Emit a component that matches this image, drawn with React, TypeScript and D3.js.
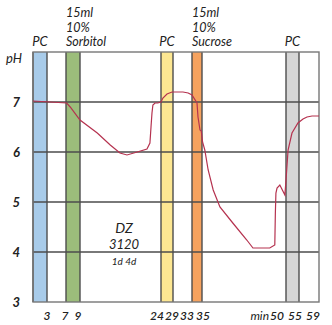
import React from "react";
import * as d3 from "d3";

const xTicks = [3, 7, 9, 24, 29, 33, 35, 50, 55, 59];
const xTickLabels = ["3", "7", "9", "24", "29", "33", "35", "50", "55", "59"];
const yTicks = [3, 4, 5, 6, 7];
const bands = [
  { from: 0, to: 3, color: "#a8cbe9", label: "PC" },
  { from: 7, to: 9, color: "#9cbd7b", label: "" },
  { from: 24, to: 29, color: "#fde792", label: "PC" },
  { from: 33, to: 35, color: "#f5a25f", label: "" },
  { from: 50, to: 55, color: "#d6d6d6", label: "PC" },
];
const minutes = [0, 7.1, 7.6, 9, 12.2, 14.6, 16.4, 17.7, 19.6, 21.4, 21.95, 22.15, 22.33, 22.5, 22.9, 23.4, 24, 24.8, 26.5, 28.6, 31.1, 32.2, 33, 34, 34.2, 34.6, 34.85, 35.1, 35.5, 36.1, 37, 38.2, 40.5, 43, 44.1, 47.1, 48.0, 48.1, 48.2, 48.4, 48.9, 49.8, 50, 50.8, 52.3, 54.6, 55.8, 56.6, 57.6, 59];
const pH = [7.02, 6.98, 6.9, 6.64, 6.38, 6.14, 5.98, 5.94, 6.0, 6.06, 6.18, 6.5, 6.78, 6.94, 6.98, 6.98, 7.0, 7.08, 7.16, 7.2, 7.2, 7.18, 7.14, 6.98, 6.7, 6.44, 6.42, 6.2, 6.04, 5.64, 5.24, 4.9, 4.58, 4.24, 4.08, 4.08, 4.14, 4.78, 5.18, 5.28, 5.34, 5.14, 5.44, 6.04, 6.38, 6.58, 6.66, 6.7, 6.72, 6.72];

const font = "Lato, 'Open Sans', sans-serif";

export default function App() {
  const x = d3
    .scaleLinear()
    .domain([0, 3, 7, 9, 24, 29, 33, 35, 50, 55, 59])
    .range([33, 47, 66, 80, 161, 173, 192, 202, 286, 299, 319]);
  const y = d3.scaleLinear().domain([3, 8]).range([302, 52]);
  const line = d3
    .line<number>()
    .x((_, i) => x(minutes[i]))
    .y((d) => y(d))
    .curve(d3.curveLinear);
  // label nudges (layout only) so crowded tick labels don't collide
  const labelDx = [0, -1, -2, -4, -1, -5, 1, -9, -4, -6];
  const grid = "#4d4d4d";
  const txt = { fontFamily: font, fontStyle: "italic", fill: "#222" } as const;
  return (
    <svg width={332} height={325} style={{ position: "absolute", left: 0, top: 0 }}>
      <rect width={332} height={325} fill="#fff" />
      {bands.map((b, i) => (
        <rect key={i} x={x(b.from)} y={y(8)} width={x(b.to) - x(b.from)} height={y(3) - y(8)} fill={b.color} />
      ))}
      {[4, 5, 6, 7].map((v) => (
        <line key={v} x1={x(0)} x2={x(59)} y1={y(v)} y2={y(v)} stroke={grid} strokeWidth={1.4} />
      ))}
      {bands.flatMap((b, i) => [b.from, b.to].map((v, j) => (
        <line key={i + "-" + j} x1={x(v)} x2={x(v)} y1={y(8)} y2={y(3)} stroke={grid} strokeWidth={1.4} />
      )))}
      <rect x={x(0)} y={y(8)} width={x(59) - x(0)} height={y(3) - y(8)} fill="none" stroke="#777" strokeWidth={1.4} />
      <path d={line(pH) || ""} fill="none" stroke="#b5324f" strokeWidth={1.2} />
      {yTicks.map((v) => (
        <text key={v} x={20} y={y(v) + 5} textAnchor="end" fontSize={13} fontWeight={700} {...txt}>{v}</text>
      ))}
      <text x={6} y={63} fontSize={13} {...txt}>pH</text>
      {xTicks.map((v, i) => (
        <text key={v} x={x(v) + labelDx[i]} y={320} textAnchor="middle" fontSize={12} fontWeight={600} {...txt}>{xTickLabels[i]}</text>
      ))}
      <text x={x(50) - 17} y={320} textAnchor="end" fontSize={12} {...txt}>min</text>
      {bands.filter((b) => b.label).map((b, i) => (
        <text key={i} x={(x(b.from) + x(b.to)) / 2} y={46} textAnchor="middle" fontSize={13} {...txt}>{b.label}</text>
      ))}
      {[["15ml", 17], ["10%", 31.5], ["Sorbitol", 46]].map(([t, yy]) => (
        <text key={"so" + t} x={x(7)} y={yy as number} fontSize={12.5} {...txt}>{t}</text>
      ))}
      {[["15ml", 17], ["10%", 31.5], ["Sucrose", 46]].map(([t, yy]) => (
        <text key={"su" + t} x={x(33)} y={yy as number} fontSize={12.5} {...txt}>{t}</text>
      ))}
      <text x={124} y={233} textAnchor="middle" fontSize={14} {...txt}>DZ</text>
      <text x={124} y={249} textAnchor="middle" fontSize={13} {...txt}>3120</text>
      <text x={124} y={265} textAnchor="middle" fontSize={10} {...txt}>1d  4d</text>
    </svg>
  );
}
